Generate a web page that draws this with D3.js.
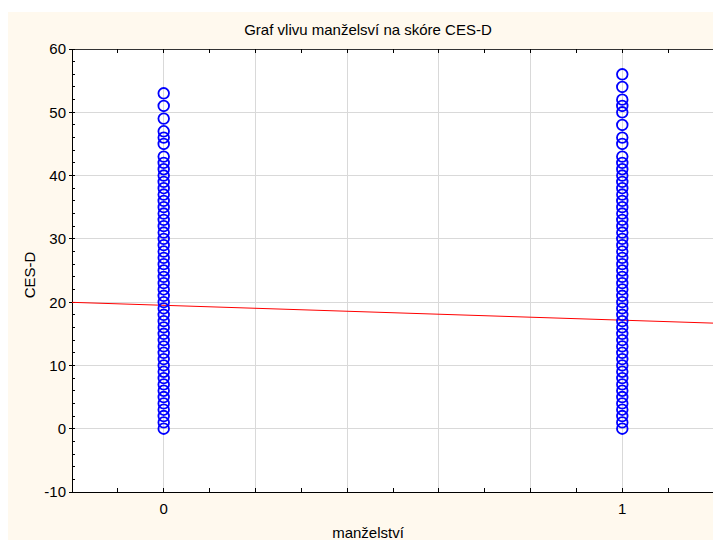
<!DOCTYPE html>
<html><head><meta charset="utf-8">
<script src="https://cdn.jsdelivr.net/npm/d3@7"></script>
<style>body{margin:0;background:#fff}svg{display:block}text{font-family:Arial,"Liberation Sans",sans-serif;fill:#000}</style>
</head><body><svg id="c" width="713" height="540"></svg>
<script>
const title = "Graf vlivu manželsví na skóre CES-D";
const xLabel = "manželství";
const yLabel = "CES-D";
const groups = [0, 1];
const xTickLabels = ["0", "1"];
const yTicks = [-10, 0, 10, 20, 30, 40, 50, 60];
const cesd0 = [0,1,2,3,4,5,6,7,8,9,10,11,12,13,14,15,16,17,18,19,20,21,22,23,24,25,26,27,28,29,30,31,32,33,34,35,36,37,38,39,40,41,42,43,45,46,47,49,51,53];
const cesd1 = [0,1,2,3,4,5,6,7,8,9,10,11,12,13,14,15,16,17,18,19,20,21,22,23,24,25,26,27,28,29,30,31,32,33,34,35,36,37,38,39,40,41,42,43,45,46,48,50,51,52,54,56];
const regIntercept = 19.5;
const regSlope = -2.35;

const svg = d3.select("#c");
const L = 72, R = 714, T = 49, B = 492;
const x = d3.scaleLinear().domain([-0.2, 1.2]).range([L, R]);
const y = d3.scaleLinear().domain([-10, 60]).range([B, T]);

svg.append("rect").attr("x", 8).attr("y", 12).attr("width", 705).attr("height", 528).attr("fill", "#FFF9EE");
svg.append("rect").attr("x", L).attr("y", T).attr("width", R - L).attr("height", B - T).attr("fill", "#fff");

// grid
svg.append("g").selectAll("line").data(d3.range(0, 6).map(i => i * 0.2)).join("line")
  .attr("x1", d => x(d)).attr("x2", d => x(d)).attr("y1", T).attr("y2", B)
  .attr("stroke", "#d9d9d9").attr("stroke-width", 1).attr("shape-rendering", "crispEdges");
svg.append("g").selectAll("line").data(yTicks.filter(v => v > -10 && v < 60)).join("line")
  .attr("x1", L).attr("x2", R).attr("y1", d => y(d)).attr("y2", d => y(d))
  .attr("stroke", "#d9d9d9").attr("stroke-width", 1).attr("shape-rendering", "crispEdges");

// frame
const frame = svg.append("g").attr("stroke", "#000").attr("shape-rendering", "crispEdges");
frame.append("line").attr("x1", L).attr("x2", L).attr("y1", T).attr("y2", B);
frame.append("line").attr("x1", L).attr("x2", R).attr("y1", B).attr("y2", B);
frame.append("line").attr("x1", L).attr("x2", R).attr("y1", T).attr("y2", T).attr("stroke", "#333");

// minor ticks
const xm = d3.range(-1, 13).map(i => i / 10);
frame.append("g").selectAll("line").data(xm).join("line")
  .attr("x1", d => x(d)).attr("x2", d => x(d)).attr("y1", B).attr("y2", B - 4);
frame.append("g").selectAll("line").data(xm).join("line")
  .attr("x1", d => x(d)).attr("x2", d => x(d)).attr("y1", T).attr("y2", T + 4);
const ym = d3.range(-10, 61, 2);
frame.append("g").selectAll("line").data(ym).join("line")
  .attr("x1", L).attr("x2", L + 3).attr("y1", d => y(d)).attr("y2", d => y(d));
frame.append("g").selectAll("line").data(yTicks).join("line")
  .attr("x1", L - 3).attr("x2", L).attr("y1", d => y(d)).attr("y2", d => y(d));

// tick labels
svg.append("g").selectAll("text").data(yTicks).join("text")
  .attr("x", 66).attr("y", d => y(d)).attr("dy", "0.36em").attr("text-anchor", "end")
  .attr("font-size", 15).text(d => d);
svg.append("g").selectAll("text").data(groups).join("text")
  .attr("x", d => x(d)).attr("y", 514).attr("text-anchor", "middle")
  .attr("font-size", 15).text((d, i) => xTickLabels[i]);

// regression line
svg.append("line").attr("x1", x(-0.2)).attr("y1", y(regIntercept + regSlope * -0.2))
  .attr("x2", x(1.2)).attr("y2", y(regIntercept + regSlope * 1.2))
  .attr("stroke", "#ff0000").attr("stroke-width", 1);

// points
const pts = [];
cesd0.forEach(v => pts.push([groups[0], v]));
cesd1.forEach(v => pts.push([groups[1], v]));
svg.append("g").selectAll("circle").data(pts).join("circle")
  .attr("cx", d => x(d[0])).attr("cy", d => y(d[1])).attr("r", 5.3)
  .attr("fill", "none").attr("stroke", "#0000ff").attr("stroke-width", 1.8);

// titles
svg.append("text").attr("x", 368).attr("y", 35).attr("text-anchor", "middle").attr("font-size", 15).text(title);
svg.append("text").attr("x", 368).attr("y", 538).attr("text-anchor", "middle").attr("font-size", 15).text(xLabel);
svg.append("text").attr("transform", "translate(35,275) rotate(-90)").attr("text-anchor", "middle").attr("font-size", 15).text(yLabel);
</script></body></html>
